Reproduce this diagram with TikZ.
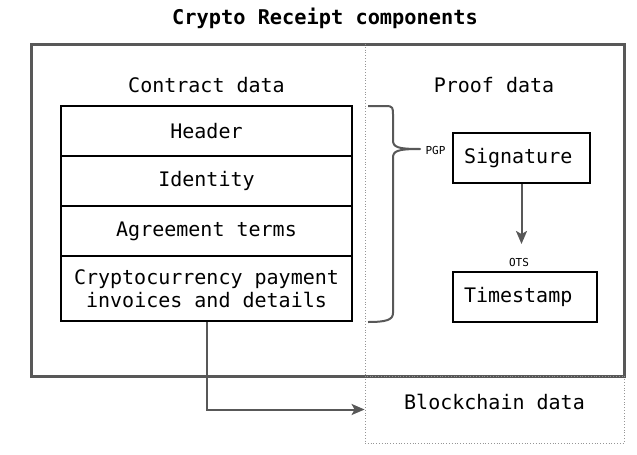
\documentclass[tikz,border=0pt]{standalone}
\usepackage{fontspec}
\setmainfont{DejaVu Sans Mono}
\usetikzlibrary{arrows.meta}
\definecolor{linegray}{RGB}{88,88,88}
\definecolor{dotgray}{RGB}{150,150,150}
\tikzset{
  rowbox/.style={draw=black, line width=2pt, minimum width=291pt, inner sep=0pt, align=center, font=\fontsize{20}{23}\selectfont},
  proofbox/.style={draw=black, line width=2pt, minimum height=50pt, inner xsep=11pt, inner ysep=0pt, align=left, anchor=west, font=\fontsize{20}{23}\selectfont},
  heading/.style={font=\fontsize{20}{23}\selectfont, inner sep=0pt},
  smalllabel/.style={font=\fontsize{11}{13}\selectfont, inner sep=0pt},
  conn/.style={draw=linegray, line width=2pt, -{Stealth[length=13pt,width=11pt,inset=3pt]}},
  dotline/.style={draw=dotgray, line width=0.8pt, dotted},
}
\begin{document}
\begin{tikzpicture}[x=1pt,y=-1pt]
\useasboundingbox (0,0) rectangle (637,455);
% title
\node[heading, font=\fontsize{20.3}{24}\selectfont\bfseries] (title) at (325,18) {Crypto Receipt components};
% outer box
\draw[draw=linegray, line width=3pt] (31,44) rectangle (624,376);
\draw[dotline] (365,44) -- (365,376);
% blockchain box
\node[dotline, draw, minimum width=259pt, minimum height=67pt, inner sep=0pt] (bc) at (494.5,409.5) {};
\node[heading, yshift=7.5pt] (bctext) at (bc.center) {Blockchain data};
% headings
\node[heading] (contract) at (206.5,85) {Contract data};
\node[heading] (proof) at (494,85) {Proof data};
% contract rows
\node[rowbox, minimum height=50pt] (header) at (206.5,131) {Header};
\node[rowbox, minimum height=50pt] (identity) at (206.5,181) {Identity};
\node[rowbox, minimum height=50pt] (terms) at (206.5,231) {Agreement terms};
\node[rowbox, minimum height=65pt] (crypto) at (206.5,288.5) {Cryptocurrency payment\\invoices and details};
% brace
\draw[draw=linegray, line width=2pt, line join=round]
  (368,106) -- (386,106) .. controls (393,106) and (393,108) .. (393,115)
  -- (393,140) .. controls (393,147) and (397,149) .. (420,149)
  .. controls (397,149) and (393,151) .. (393,158)
  -- (393,313) .. controls (393,320) and (386,322) .. (368,322);
\node[smalllabel] (pgp) at (435.5,150) {PGP};
% proof boxes
\node[proofbox, text width=115pt] (sig) at (452,158) {Signature};
\node[proofbox, text width=122pt] (ts) at (452,297) {Timestamp};
\coordinate (otsend) at (sig.south |- 0,244);
\draw[conn] (sig.south) -- (otsend);
\node[smalllabel] (ots) at (519,262) {OTS};
% arrow to blockchain
\draw[conn] (crypto.south) |- (bc.west);
\end{tikzpicture}
\end{document}
